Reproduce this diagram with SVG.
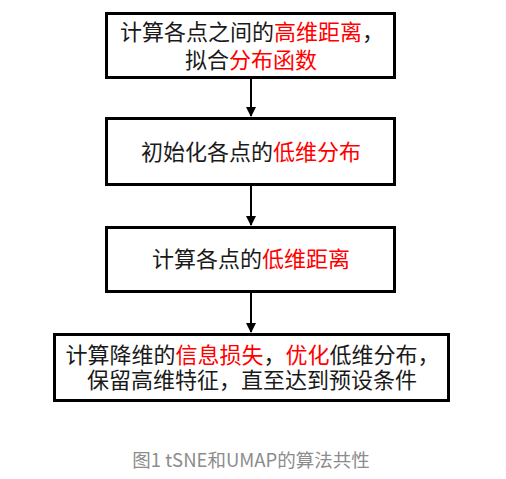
<svg xmlns="http://www.w3.org/2000/svg" width="506" height="479" viewBox="0 0 506 479">
<style>
.box{fill:#fff;stroke:#000;stroke-width:3}
.t{font-family:"Noto Sans CJK SC","Microsoft YaHei",sans-serif;font-size:22px;fill:#1a1a1a}
.r{fill:#ff0000}
.cap{font-family:"Noto Sans CJK SC","Microsoft YaHei",sans-serif;font-size:18.5px;fill:#8c8c8c;text-anchor:middle}
.c{stroke:#000;stroke-width:2;fill:none}
</style>
<defs>
<marker id="ah" markerWidth="10" markerHeight="10" refX="9" refY="5" orient="auto" markerUnits="userSpaceOnUse">
<path d="M0,0 L10,5 L0,10 z" fill="#000"/>
</marker>
</defs>
<rect width="506" height="479" fill="#fff"/>
<g id="connectors">
<line class="c" x1="251" y1="79" x2="251" y2="116" marker-end="url(#ah)"/>
<line class="c" x1="251" y1="186" x2="251" y2="225" marker-end="url(#ah)"/>
<line class="c" x1="251" y1="293" x2="251" y2="332" marker-end="url(#ah)"/>
</g>
<g id="node1">
<rect class="box" x="106.5" y="13.5" width="288" height="64"/>
<text class="t" x="120" y="40">计算各点之间的</text>
<text class="t r" x="274" y="40">高维距离</text>
<text class="t" x="362" y="40">，</text>
<text class="t" x="185" y="68">拟合</text>
<text class="t r" x="229" y="68">分布函数</text>
</g>
<g id="node2">
<rect class="box" x="106.5" y="118.5" width="288" height="66"/>
<text class="t" x="141" y="160">初始化各点的</text>
<text class="t r" x="273" y="160">低维分布</text>
</g>
<g id="node3">
<rect class="box" x="106.5" y="227.5" width="288" height="64"/>
<text class="t" x="152" y="267">计算各点的</text>
<text class="t r" x="262" y="267">低维距离</text>
</g>
<g id="node4">
<rect class="box" x="54.5" y="334.5" width="394" height="66"/>
<text class="t" x="65.5" y="363">计算降维的</text>
<text class="t r" x="175.5" y="363">信息损失</text>
<text class="t" x="263.5" y="363">，</text>
<text class="t r" x="285.5" y="363">优化</text>
<text class="t" x="329.5" y="363">低维分布，</text>
<text class="t" x="87" y="388">保留高维特征，直至达到预设条件</text>
</g>
<text class="cap" x="251" y="467">图1 tSNE和UMAP的算法共性</text>
</svg>
